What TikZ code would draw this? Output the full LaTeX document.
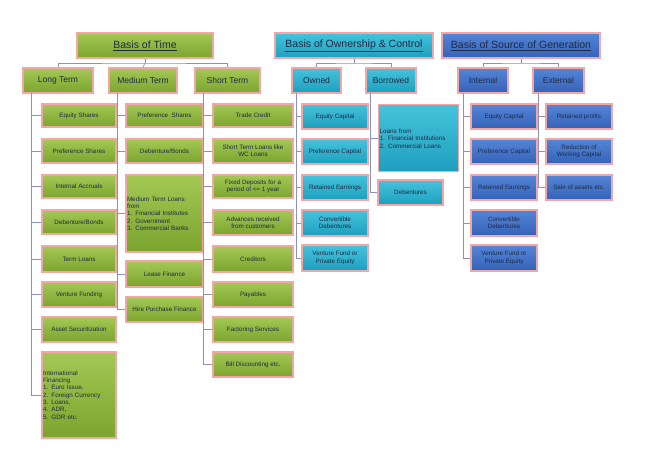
\documentclass[tikz,border=0pt]{standalone}
\usepackage{fontspec}
\setmainfont{Liberation Sans}
\definecolor{gt}{HTML}{A4C855}\definecolor{gb}{HTML}{7BA42E}
\definecolor{ct}{HTML}{45C3DC}\definecolor{cb}{HTML}{1E9FBE}
\definecolor{bt}{HTML}{5585D6}\definecolor{bb}{HTML}{3462B8}
\definecolor{pk}{HTML}{F2A6A6}\definecolor{tx}{HTML}{1F2A44}
\begin{document}
\begin{tikzpicture}[x=1pt,y=-1pt,
  base/.style={draw=pk,line width=1.4pt,inner sep=1pt,font=\fontsize{6.3}{7.3}\selectfont,text=tx,align=center},
  gr/.style={base,top color=gt,bottom color=gb},
  cy/.style={base,top color=ct,bottom color=cb},
  bl/.style={base,top color=bt,bottom color=bb},
  hd/.style={font=\fontsize{10.5}{12}\selectfont},
  sb/.style={font=\fontsize{8.5}{10}\selectfont},
  ln/.style={draw=blue!25!gray!70,line width=0.7pt}]
\useasboundingbox (0,0) rectangle (672,450);
\newcommand\bx[7]{\node[#6,minimum width={#4pt-#2pt},minimum height={#5pt-#3pt}] (#1) at ({(#2+#4)/2},{(#3+#5)/2}) {#7};}
% headers
\bx{ht}{77}{33}{213}{58}{gr,hd}{\underline{Basis of Time}}
\bx{ho}{275}{33}{433}{58}{cy,hd}{\underline{Basis of Ownership \& Control}}
\bx{hs}{442}{33}{600}{58}{bl,hd}{\underline{Basis of Source of Generation}}
\bx{lt}{23}{68}{93}{93}{gr,sb}{Long Term}
\bx{mt}{109}{68}{177}{93}{gr,sb}{Medium Term}
\bx{st}{195}{68}{260}{93}{gr,sb}{Short Term}
\bx{ow}{292}{68}{341}{93}{cy,sb}{Owned}
\bx{bo}{366}{68}{416}{93}{cy,sb}{Borrowed}
\bx{in}{458}{68}{508}{93}{bl,sb}{Internal}
\bx{ex}{533}{68}{584}{93}{bl,sb}{External}
\coordinate (tb) at (145,63); \coordinate (ob) at (354,63); \coordinate (sb) at (521,63);
\draw[ln] (ht.south) -- (tb); \draw[ln] (lt.north) |- (tb) -| (st.north); \draw[ln] (tb) -- (mt.north);
\draw[ln] (ho.south) -- (ob); \draw[ln] (ow.north) |- (ob) -| (bo.north);
\draw[ln] (hs.south) -- (sb); \draw[ln] (in.north) |- (sb) -| (ex.north);
% long term
\bx{l1}{42}{104}{116}{127}{gr}{Equity Shares}
\bx{l2}{42}{139}{116}{163}{gr}{Preference Shares}
\bx{l3}{42}{175}{116}{198}{gr}{Internal Accruals}
\bx{l4}{42}{210}{116}{234}{gr}{Debenture/Bonds}
\bx{l5}{42}{246}{116}{272}{gr}{Term Loans}
\bx{l6}{42}{282}{116}{307}{gr}{Venture Funding}
\bx{l7}{42}{317}{116}{342}{gr}{Asset Securitization}
\node[gr,minimum width=74pt,minimum height=86pt,text width=72pt,align=left] (l8) at (79,395) {International\\Financing\\1. Euro Issue,\\2. Foreign Currency\\3. Loans,\\4. ADR,\\5. GDR etc.};
\coordinate (lc) at (31,93);
\foreach \n in {l1,l2,l3,l4,l5,l6,l7,l8} \draw[ln] (lc) |- (\n.west);
% medium
\bx{m1}{126}{104}{203}{127}{gr}{Preference\ \ Shares}
\bx{m2}{126}{139}{203}{163}{gr}{Debenture/Bonds}
\node[gr,minimum width=77pt,minimum height=77pt,text width=75pt,align=left] (m3) at (164.5,213.5) {Medium Term Loans\\from\\1. Financial Institutes\\2. Government\\3. Commercial Banks};
\bx{m4}{126}{261}{203}{287}{gr}{Lease Finance}
\bx{m5}{126}{297}{203}{322}{gr}{Hire Purchase Finance}
\coordinate (mc) at (117,93);
\foreach \n in {m1,m2,m3,m4,m5} \draw[ln] (mc) |- (\n.west);
% short
\bx{s1}{213}{104}{293}{127}{gr}{Trade Credit}
\bx{s2}{213}{139}{293}{163}{gr}{Short Term Loans like\\WC Loans}
\bx{s3}{213}{175}{293}{198}{gr}{Fixed Deposits for a\\period of <= 1 year}
\bx{s4}{213}{210}{293}{235}{gr}{Advances received\\from customers}
\bx{s5}{213}{246}{293}{272}{gr}{Creditors}
\bx{s6}{213}{282}{293}{307}{gr}{Payables}
\bx{s7}{213}{317}{293}{342}{gr}{Factoring Services}
\bx{s8}{213}{352}{293}{377}{gr}{Bill Discounting etc.}
\coordinate (sc) at (203,93);
\foreach \n in {s1,s2,s3,s4,s5,s6,s7,s8} \draw[ln] (sc) |- (\n.west);
% owned
\bx{o1}{302}{104}{368}{129}{cy}{Equity Capital}
\bx{o2}{302}{139}{368}{164}{cy}{Preference Capital}
\bx{o3}{302}{175}{368}{200}{cy}{Retained Earnings}
\bx{o4}{302}{210}{368}{236}{cy}{Convertible\\Debentures}
\bx{o5}{302}{245}{368}{271}{cy}{Venture Fund or\\Private Equity}
\coordinate (oc) at (296,93);
\foreach \n in {o1,o2,o3,o4,o5} \draw[ln] (oc) |- (\n.west);
\node[cy,minimum width=80pt,minimum height=67pt,text width=78pt,align=left,anchor=north west,inner sep=1pt] (b1) at (378,104) {\\[-2pt]Loans from\\1. Financial Institutions\\2. Commercial Loans\\[22pt]};
\bx{b2}{378}{180}{443}{205}{cy}{Debentures}
\coordinate (bc) at (370,93);
\foreach \n in {b1,b2} \draw[ln] (bc) |- (\n.west);
% internal
\bx{i1}{471}{104}{537}{129}{bl}{Equity Capital}
\bx{i2}{471}{139}{537}{164}{bl}{Preference Capital}
\bx{i3}{471}{175}{537}{200}{bl}{Retained Earnings}
\bx{i4}{471}{210}{537}{236}{bl}{Convertible\\Debentures}
\bx{i5}{471}{245}{537}{271}{bl}{Venture Fund or\\Private Equity}
\coordinate (ic) at (463,93);
\foreach \n in {i1,i2,i3,i4,i5} \draw[ln] (ic) |- (\n.west);
\bx{e1}{546}{104}{612}{129}{bl}{Retained profits}
\bx{e2}{546}{139}{612}{164}{bl}{Reduction of\\Working Capital}
\bx{e3}{546}{175}{612}{200}{bl}{Sale of assets etc.}
\coordinate (ec) at (538,93);
\foreach \n in {e1,e2,e3} \draw[ln] (ec) |- (\n.west);
\end{tikzpicture}
\end{document}
